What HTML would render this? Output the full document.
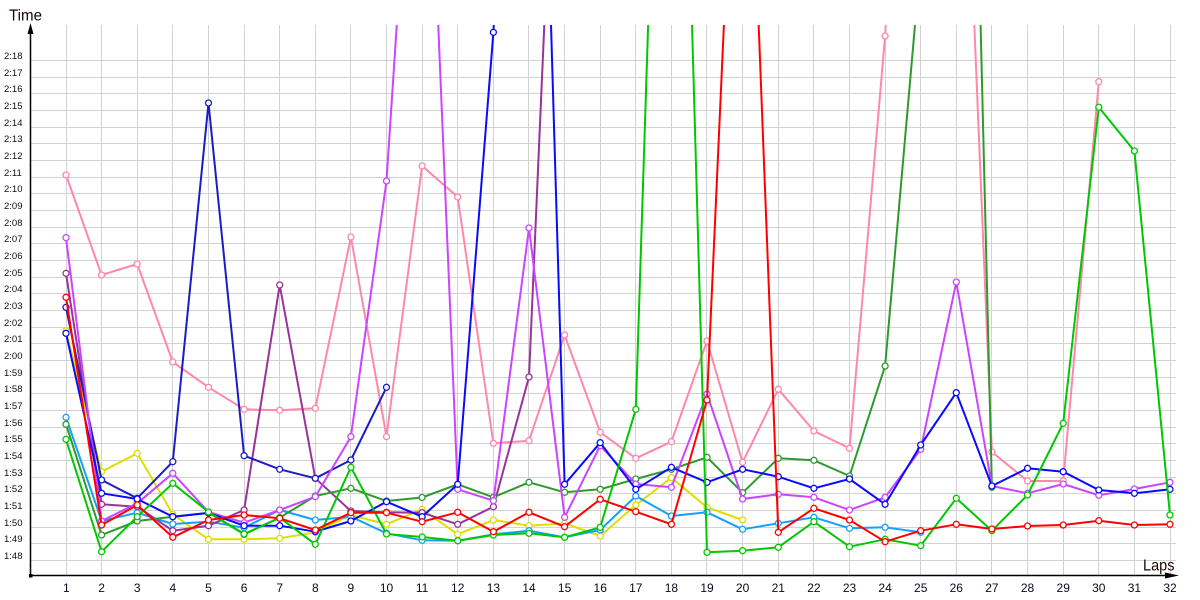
<!DOCTYPE html>
<html>
<head>
<meta charset="utf-8">
<style>
html,body{margin:0;padding:0;background:#fff;}
svg{display:block;}
text{font-family:"Liberation Sans","DejaVu Sans",sans-serif;}
</style>
</head>
<body>
<svg width="1200" height="600" viewBox="0 0 1200 600" xmlns="http://www.w3.org/2000/svg">
<defs>
<clipPath id="plot"><rect x="31" y="25" width="1150" height="550"/></clipPath>
<marker id="m1" markerWidth="10" markerHeight="10" refX="5" refY="5" markerUnits="userSpaceOnUse" overflow="visible"><circle cx="5" cy="5" r="3" fill="#fff" stroke="#ff0000" stroke-width="1.3"/></marker>
<marker id="m2" markerWidth="10" markerHeight="10" refX="5" refY="5" markerUnits="userSpaceOnUse" overflow="visible"><circle cx="5" cy="5" r="3" fill="#fff" stroke="#00c800" stroke-width="1.3"/></marker>
<marker id="m3" markerWidth="10" markerHeight="10" refX="5" refY="5" markerUnits="userSpaceOnUse" overflow="visible"><circle cx="5" cy="5" r="3" fill="#fff" stroke="#2e9a2e" stroke-width="1.3"/></marker>
<marker id="m4" markerWidth="10" markerHeight="10" refX="5" refY="5" markerUnits="userSpaceOnUse" overflow="visible"><circle cx="5" cy="5" r="3" fill="#fff" stroke="#0a0aff" stroke-width="1.3"/></marker>
<marker id="m5" markerWidth="10" markerHeight="10" refX="5" refY="5" markerUnits="userSpaceOnUse" overflow="visible"><circle cx="5" cy="5" r="3" fill="#fff" stroke="#1c1cc4" stroke-width="1.3"/></marker>
<marker id="m6" markerWidth="10" markerHeight="10" refX="5" refY="5" markerUnits="userSpaceOnUse" overflow="visible"><circle cx="5" cy="5" r="3" fill="#fff" stroke="#cc44ff" stroke-width="1.3"/></marker>
<marker id="m7" markerWidth="10" markerHeight="10" refX="5" refY="5" markerUnits="userSpaceOnUse" overflow="visible"><circle cx="5" cy="5" r="3" fill="#fff" stroke="#993399" stroke-width="1.3"/></marker>
<marker id="m8" markerWidth="10" markerHeight="10" refX="5" refY="5" markerUnits="userSpaceOnUse" overflow="visible"><circle cx="5" cy="5" r="3" fill="#fff" stroke="#ff88aa" stroke-width="1.3"/></marker>
<marker id="m9" markerWidth="10" markerHeight="10" refX="5" refY="5" markerUnits="userSpaceOnUse" overflow="visible"><circle cx="5" cy="5" r="3" fill="#fff" stroke="#dede00" stroke-width="1.3"/></marker>
<marker id="m10" markerWidth="10" markerHeight="10" refX="5" refY="5" markerUnits="userSpaceOnUse" overflow="visible"><circle cx="5" cy="5" r="3" fill="#fff" stroke="#14a0ff" stroke-width="1.3"/></marker>
</defs>

<rect x="0" y="0" width="1200" height="600" fill="#fff"/>

<path stroke="#d2d2d2" stroke-width="1" fill="none" shape-rendering="crispEdges" d="M66.5 25V575M101.5 25V575M137.5 25V575M172.5 25V575M208.5 25V575M244.5 25V575M279.5 25V575M315.5 25V575M350.5 25V575M386.5 25V575M422.5 25V575M457.5 25V575M493.5 25V575M528.5 25V575M564.5 25V575M600.5 25V575M635.5 25V575M671.5 25V575M706.5 25V575M742.5 25V575M778.5 25V575M813.5 25V575M849.5 25V575M885.5 25V575M920.5 25V575M956.5 25V575M991.5 25V575M1027.5 25V575M1063.5 25V575M1098.5 25V575M1134.5 25V575M1170.5 25V575"/>
<path stroke="#d2d2d2" stroke-width="1" fill="none" shape-rendering="crispEdges" d="M31 60.5H1176M31 77.5H1176M31 93.5H1176M31 110.5H1176M31 127.5H1176M31 143.5H1176M31 160.5H1176M31 177.5H1176M31 193.5H1176M31 210.5H1176M31 227.5H1176M31 243.5H1176M31 260.5H1176M31 277.5H1176M31 293.5H1176M31 310.5H1176M31 327.5H1176M31 343.5H1176M31 360.5H1176M31 377.5H1176M31 393.5H1176M31 410.5H1176M31 427.5H1176M31 443.5H1176M31 460.5H1176M31 477.5H1176M31 493.5H1176M31 510.5H1176M31 527.5H1176M31 543.5H1176M31 560.5H1176"/>

<g font-size="9.5" fill="#1a0a0a">
<text x="4" y="59">2:18</text>
<text x="4" y="76">2:17</text>
<text x="4" y="92">2:16</text>
<text x="4" y="109">2:15</text>
<text x="4" y="126">2:14</text>
<text x="4" y="142">2:13</text>
<text x="4" y="159">2:12</text>
<text x="4" y="176">2:11</text>
<text x="4" y="192">2:10</text>
<text x="4" y="209">2:09</text>
<text x="4" y="226">2:08</text>
<text x="4" y="242">2:07</text>
<text x="4" y="259">2:06</text>
<text x="4" y="276">2:05</text>
<text x="4" y="292">2:04</text>
<text x="4" y="309">2:03</text>
<text x="4" y="326">2:02</text>
<text x="4" y="342">2:01</text>
<text x="4" y="359">2:00</text>
<text x="4" y="376">1:59</text>
<text x="4" y="392">1:58</text>
<text x="4" y="409">1:57</text>
<text x="4" y="426">1:56</text>
<text x="4" y="442">1:55</text>
<text x="4" y="459">1:54</text>
<text x="4" y="476">1:53</text>
<text x="4" y="492">1:52</text>
<text x="4" y="509">1:51</text>
<text x="4" y="526">1:50</text>
<text x="4" y="542">1:49</text>
<text x="4" y="559">1:48</text>
</g>

<g font-size="12" fill="#0a0a1e" text-anchor="middle">
<text x="66.3" y="592">1</text>
<text x="101.6" y="592">2</text>
<text x="137.2" y="592">3</text>
<text x="172.8" y="592">4</text>
<text x="208.5" y="592">5</text>
<text x="244.1" y="592">6</text>
<text x="279.7" y="592">7</text>
<text x="315.3" y="592">8</text>
<text x="350.9" y="592">9</text>
<text x="386.5" y="592">10</text>
<text x="422.1" y="592">11</text>
<text x="457.7" y="592">12</text>
<text x="493.4" y="592">13</text>
<text x="529.0" y="592">14</text>
<text x="564.6" y="592">15</text>
<text x="600.2" y="592">16</text>
<text x="635.8" y="592">17</text>
<text x="671.4" y="592">18</text>
<text x="707.0" y="592">19</text>
<text x="742.6" y="592">20</text>
<text x="778.3" y="592">21</text>
<text x="813.9" y="592">22</text>
<text x="849.5" y="592">23</text>
<text x="885.1" y="592">24</text>
<text x="920.7" y="592">25</text>
<text x="956.3" y="592">26</text>
<text x="991.9" y="592">27</text>
<text x="1027.5" y="592">28</text>
<text x="1063.2" y="592">29</text>
<text x="1098.8" y="592">30</text>
<text x="1134.4" y="592">31</text>
<text x="1170.0" y="592">32</text>
</g>

<g clip-path="url(#plot)" fill="none" stroke-width="2" stroke-linejoin="round">
<polyline stroke="#ff88aa" marker-start="url(#m8)" marker-mid="url(#m8)" marker-end="url(#m8)" points="66.0,175 101.6,275 137.2,264 172.8,362 208.5,387.3 244.1,409.3 279.7,410.3 315.3,408.3 350.9,237 386.5,436.7 422.1,166 457.7,197 493.4,443.3 529.0,440.7 564.6,335 600.2,432.3 635.8,458.3 671.4,441.7 707.0,341 742.6,462.3 778.3,389.3 813.9,431 849.5,448.3 885.1,36 920.7,-600 956.3,-412 991.9,452 1027.5,481 1063.2,481 1098.8,81.7"/>
<polyline stroke="#dede00" marker-start="url(#m9)" marker-mid="url(#m9)" marker-end="url(#m9)" points="66.0,330.7 101.6,471.7 137.2,453.3 172.8,514.3 208.5,539.3 244.1,539.3 279.7,538.3 315.3,532.3 350.9,515 386.5,524.3 422.1,509.3 457.7,534.3 493.4,520 529.0,525.7 564.6,523.3 600.2,536 635.8,505 671.4,477.7 707.0,507.3 742.6,520"/>
<polyline stroke="#14a0ff" marker-start="url(#m10)" marker-mid="url(#m10)" marker-end="url(#m10)" points="66.0,417.3 101.6,521 137.2,512.7 172.8,524 208.5,521.7 244.1,527.7 279.7,510 315.3,520 350.9,516.7 386.5,533.3 422.1,540.3 457.7,540.7 493.4,534.3 529.0,530.7 564.6,537.3 600.2,530 635.8,496 671.4,516 707.0,512.3 742.6,529.3 778.3,523.3 813.9,517.3 849.5,528.3 885.1,527.3 920.7,532.3"/>
<polyline stroke="#993399" marker-start="url(#m7)" marker-mid="url(#m7)" marker-end="url(#m7)" points="66.0,273.3 101.6,504.3 137.2,506.7 172.8,530.7 208.5,525.7 244.1,510 279.7,285 315.3,478.3 350.9,511 386.5,512.3 422.1,512.7 457.7,524.3 493.4,506.7 529.0,377 564.6,-442"/>
<polyline stroke="#2e9a2e" marker-start="url(#m3)" marker-mid="url(#m3)" marker-end="url(#m3)" points="66.0,424.3 101.6,535 137.2,521 172.8,516.7 208.5,512.7 244.1,534.3 279.7,517.7 315.3,496 350.9,488.3 386.5,501 422.1,497.5 457.7,484.3 493.4,497.3 529.0,482.3 564.6,492.3 600.2,489.3 635.8,479 671.4,469.3 707.0,457.3 742.6,492.7 778.3,458.3 813.9,460.3 849.5,476 885.1,366 920.7,-40 956.3,-969 991.9,487.3"/>
<polyline stroke="#1c1cc4" marker-start="url(#m5)" marker-mid="url(#m5)" marker-end="url(#m5)" points="66.0,307.3 101.6,480 137.2,498.3 172.8,461.7 208.5,103 244.1,455.7 279.7,469.3 315.3,478.3 350.9,460 386.5,387.3"/>
<polyline stroke="#cc44ff" marker-start="url(#m6)" marker-mid="url(#m6)" marker-end="url(#m6)" points="66.0,237.7 101.6,521 137.2,503.3 172.8,473.3 208.5,512 244.1,522.7 279.7,510 315.3,496.7 350.9,436.7 386.5,181 422.1,-360 457.7,489.3 493.4,500.7 529.0,228 564.6,517.3 600.2,445.7 635.8,484 671.4,487.3 707.0,394 742.6,499 778.3,494.3 813.9,497.3 849.5,510 885.1,497.3 920.7,449.3 956.3,282 991.9,486 1027.5,493.3 1063.2,484 1098.8,495.3 1134.4,489 1170.0,482.3"/>
<polyline stroke="#0a0aff" marker-start="url(#m4)" marker-mid="url(#m4)" marker-end="url(#m4)" points="66.0,333.3 101.6,493.3 137.2,499 172.8,516.7 208.5,513 244.1,525.7 279.7,525.7 315.3,531.7 350.9,521 386.5,501.7 422.1,516.7 457.7,484.3 493.4,32.3 529.0,-719 564.6,484.3 600.2,442.7 635.8,489.3 671.4,467.3 707.0,482.3 742.6,469.3 778.3,476.7 813.9,488.3 849.5,479 885.1,504.3 920.7,445 956.3,392.7 991.9,486 1027.5,468.3 1063.2,471.7 1098.8,490 1134.4,493.3 1170.0,489.3"/>
<polyline stroke="#00c800" marker-start="url(#m2)" marker-mid="url(#m2)" marker-end="url(#m2)" points="66.0,439.3 101.6,551.7 137.2,516.7 172.8,483.3 208.5,512 244.1,534 279.7,517.7 315.3,544.3 350.9,467.3 386.5,534 422.1,537 457.7,540.7 493.4,535 529.0,533.3 564.6,537.3 600.2,527.3 635.8,409.3 671.4,-700 707.0,552.3 742.6,550.7 778.3,547.3 813.9,521.7 849.5,546.7 885.1,539.3 920.7,545.7 956.3,498.3 991.9,530.7 1027.5,495 1063.2,423.3 1098.8,107.3 1134.4,151 1170.0,515"/>
<polyline stroke="#ff0000" marker-start="url(#m1)" marker-mid="url(#m1)" marker-end="url(#m1)" points="66.0,297.3 101.6,525 137.2,505 172.8,537.3 208.5,520 244.1,515 279.7,518.3 315.3,530 350.9,512.7 386.5,512.7 422.1,521.7 457.7,512.3 493.4,531.7 529.0,512.3 564.6,526.7 600.2,499.3 635.8,511.7 671.4,524.3 707.0,400 742.6,-390 778.3,532.3 813.9,508.3 849.5,520 885.1,541.7 920.7,530.7 956.3,524.3 991.9,529 1027.5,526 1063.2,525 1098.8,520.7 1134.4,525 1170.0,524.3"/>
</g>

<path stroke="#000" stroke-width="1.5" fill="none" d="M30.5 32V575.5M30 575.5H1168"/>
<polygon points="30.5,23 27.5,34 33.5,34" fill="#000"/>
<polygon points="1179,575.5 1165,572.5 1165,578.5" fill="#000"/>
<rect x="29" y="574" width="3.5" height="3.5" fill="#000"/>

<text x="9" y="20.7" font-size="15.5" fill="#1a0505" textLength="33" lengthAdjust="spacingAndGlyphs">Time</text>
<text x="1143" y="570.5" font-size="16" fill="#1a0505" textLength="31.5" lengthAdjust="spacingAndGlyphs">Laps</text>
</svg>
</body>
</html>
